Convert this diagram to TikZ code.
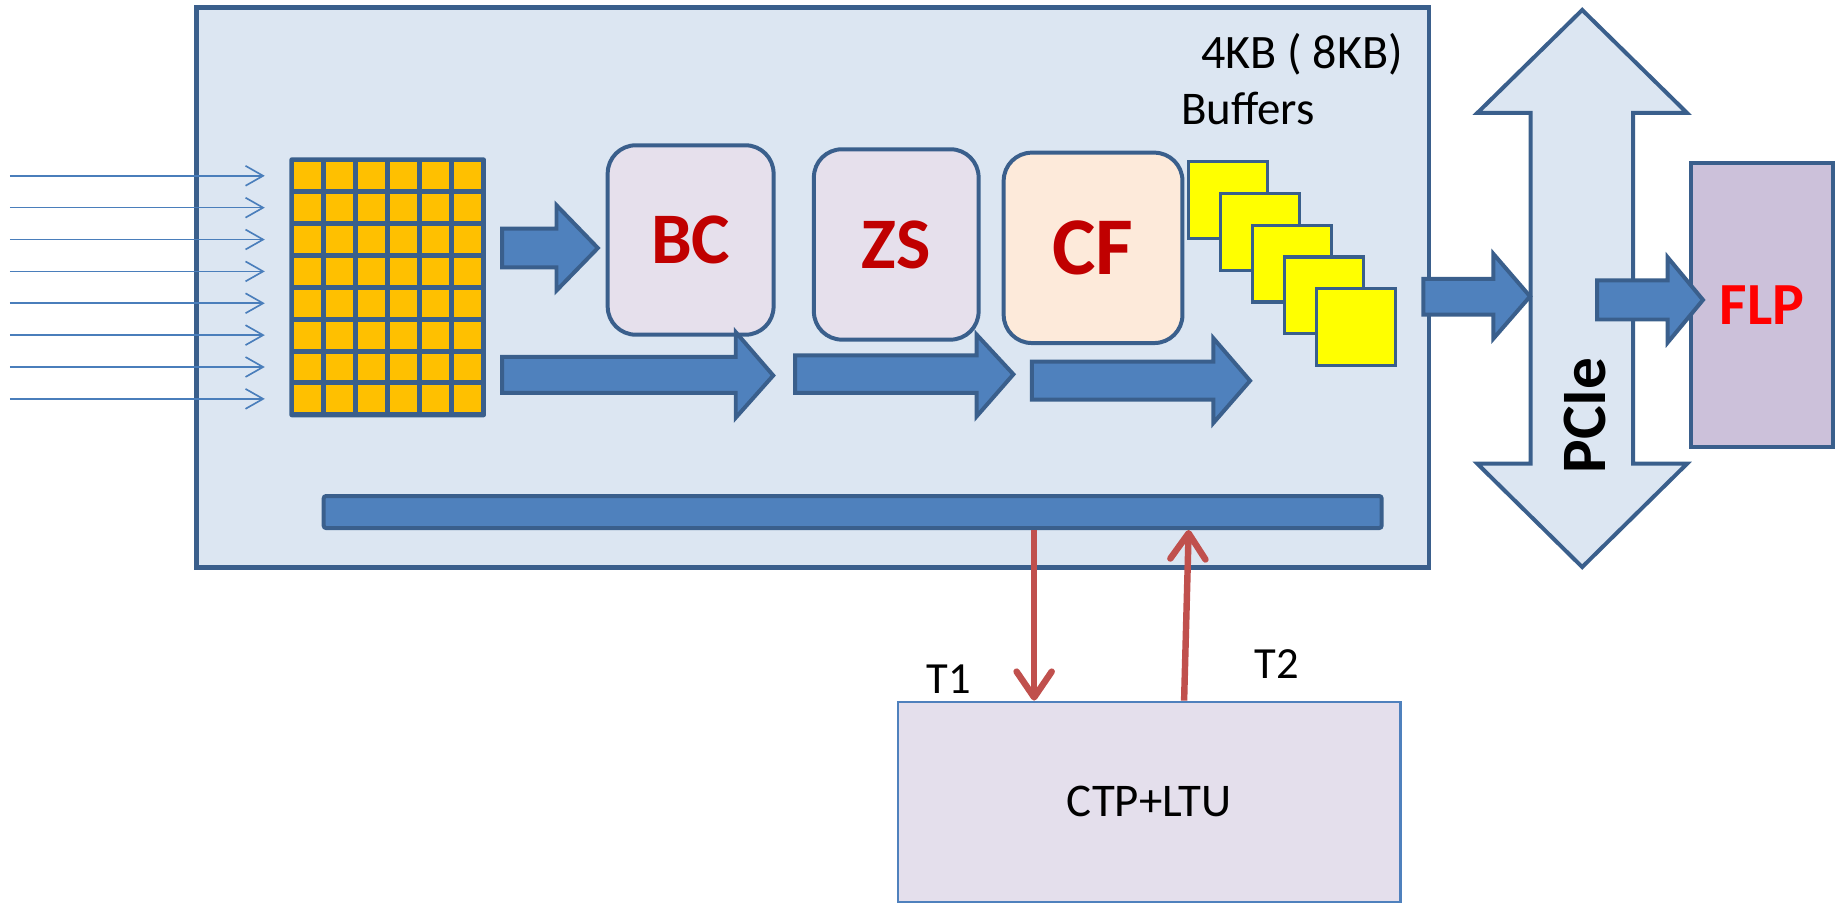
\documentclass[tikz,border=0pt]{standalone}
\usepackage{fontspec}
\setmainfont{Carlito}
\usetikzlibrary{arrows.meta,calc}
\definecolor{panel}{HTML}{DCE6F2}
\definecolor{edge}{HTML}{3A5F8C}
\definecolor{arrfill}{HTML}{4F81BD}
\definecolor{inarrow}{HTML}{4A7EBB}
\definecolor{cellor}{HTML}{FFC000}
\definecolor{buf}{HTML}{FFFF00}
\definecolor{lav}{HTML}{E6E0EC}
\definecolor{peach}{HTML}{FDEADA}
\definecolor{flpfill}{HTML}{CCC1DA}
\definecolor{ctpfill}{HTML}{E4DFEC}
\definecolor{ctpedge}{HTML}{4F81BD}
\definecolor{redline}{HTML}{C0504D}
\definecolor{darkred}{HTML}{C00000}
\definecolor{brightred}{HTML}{FF0000}
\newcommand{\blkarrow}[8]{\draw[blockarr] (#1,#5) -- (#2,#5) -- (#2,#7) -- (#3,#4) -- (#2,#8) -- (#2,#6) -- (#1,#6) -- cycle;}
\begin{document}
\begin{tikzpicture}[x=1pt,y=-1pt,
  panelbox/.style={draw=edge, line width=4pt, fill=panel},
  blockarr/.style={draw=edge, line width=3.4pt, fill=arrfill, line join=miter},
  procbox/.style={draw=edge, line width=3.4pt, rounded corners=24pt, inner sep=0pt},
  bigred/.style={text=darkred, font=\bfseries\fontsize{62}{62}\selectfont},
  bufbox/.style={draw=edge, line width=2.8pt, fill=buf, minimum width=67.7pt, minimum height=65.5pt, inner sep=0pt},
  inarr/.style={draw=inarrow, line width=1.4pt, -{Straight Barb[length=15pt,width=17pt]}},
  redarr/.style={draw=redline, line width=5.5pt, -{Straight Barb[length=22pt,width=30pt,round]}},
  plaintext/.style={font=\fontsize{40}{40}\selectfont, inner sep=0pt},
]
\useasboundingbox (0,0) rectangle (1568,772);
% main panel
\node[panelbox, minimum width=1051.8pt, minimum height=478pt, inner sep=0pt] (main) at (693.8,245.35) {};
% input grid
\fill[edge, rounded corners=2pt] (247,134.3) rectangle (414.8,356.2);
\foreach \i in {0,...,5}
  \foreach \j in {0,...,7}
    \fill[cellor] ({247+4.3+27.28*\i},{134.3+4.3+27.2*\j}) rectangle ++(22.98,22.9);
% input lines
\foreach \j in {0,...,7}{
  \coordinate (src\j) at (8.5,{150.05+27.2*\j});
  \coordinate (dst\j) at (226,{150.05+27.2*\j});
  \draw[inarr] (src\j) -- (dst\j);
}
% processing boxes
\node[procbox, fill=lav, minimum width=141.6pt, minimum height=161.7pt, bigred] (bc) at (589.5,204.85) {BC};
\node[procbox, fill=lav, minimum width=140.6pt, minimum height=162.5pt, bigred] (zs) at (765,208.65) {ZS};
\node[procbox, fill=peach, minimum width=152.6pt, minimum height=162.5pt, bigred, font=\bfseries\fontsize{70}{70}\selectfont] (cf) at (933,211.55) {CF};
% buffers
\foreach \k in {0,...,4}
  \node[bufbox] (buf\k) at ({1048.25+27.3*\k},{170.75+27.1*\k}) {};
\node[plaintext, anchor=base west, font=\fontsize{41}{41}\selectfont] (kb) at (1025,58.5) {4KB ( 8KB)};
\node[plaintext, anchor=base west] (bufl) at (1008,106) {Buffers};
% block arrows inside
\blkarrow{428.5}{475}{510.3}{211.7}{195.2}{228.2}{175.2}{248}
\blkarrow{428.5}{628}{660}{320.5}{304.7}{335.3}{283.5}{356.5}
\blkarrow{678.7}{833.7}{865}{319.5}{303.3}{335.3}{285.7}{355.3}
\blkarrow{880.7}{1035.7}{1067}{325}{308.7}{341}{288.7}{361}
% bus bar
\node[draw=edge, line width=3.4pt, fill=arrfill, rounded corners=2pt, minimum width=903pt, minimum height=27.3pt, inner sep=0pt] (bus) at (727.8,437.05) {};
% PCIe
\draw[draw=edge, line width=3.4pt, fill=panel, line join=miter]
  (1350.5,8.5) -- (1440,96.4) -- (1394,96.4) -- (1394,395.8) -- (1440,395.8)
  -- (1350.5,484) -- (1261,395.8) -- (1306.5,395.8) -- (1306.5,96.4) -- (1261,96.4) -- cycle;
\node[rotate=90, anchor=base, inner sep=0pt, font=\bfseries\fontsize{54}{54}\selectfont] (pcie) at (1370,354.4) {PCIe};
% FLP
\node[draw=edge, line width=3.4pt, fill=flpfill, minimum width=120.8pt, minimum height=242.1pt, inner sep=0pt,
  text=brightred, font=\bfseries\fontsize{51}{51}\selectfont] (flp) at (1503.9,260.25) {FLP};
\blkarrow{1215}{1274.7}{1306}{253}{238}{268.6}{216.7}{289}
\blkarrow{1363.2}{1423.5}{1453.6}{256}{239.4}{272.7}{219.7}{292.3}
% CTP+LTU
\node[draw=ctpedge, line width=2pt, fill=ctpfill, minimum width=429pt, minimum height=170.8pt, inner sep=0pt,
  font=\fontsize{40}{40}\selectfont] (ctp) at (981,684.4) {CTP+LTU};
% red links
\coordinate (t1x) at (882.7,0);
\coordinate (t2a) at (1010.7,0);
\coordinate (t2b) at (1014.6,0);
\draw[redarr] (bus.south -| t1x) -- (ctp.north -| t1x);
\draw[redarr] (ctp.north -| t2a) -- (bus.south -| t2b);
\node[plaintext, anchor=base west, font=\fontsize{38}{38}\selectfont] (t1) at (791,591.8) {T1};
\node[plaintext, anchor=base west, font=\fontsize{38}{38}\selectfont] (t2) at (1071,579) {T2};
\end{tikzpicture}
\end{document}
